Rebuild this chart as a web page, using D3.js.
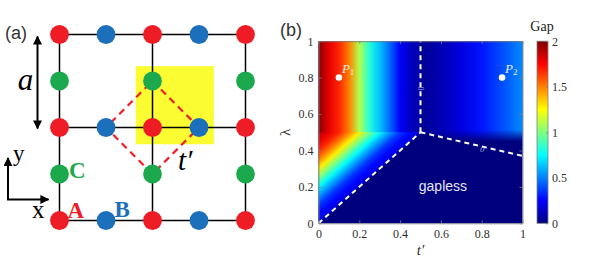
<!DOCTYPE html>
<html lang="en">
<head>
  <meta charset="UTF-8">
  <title>Lattice and gap phase diagram</title>
  <style>
    body { margin: 0; background: #fff; }
    text { font-family: "Liberation Serif", serif; }
  </style>
</head>
<body>
  <svg id="svg" width="589" height="264"></svg>

  <script src="https://d3js.org/d3.v7.min.js"></script>
  <script>
    // ---- panel (a): lattice ----
    const gridIdx = [0, 1, 2]
    const halfIdx = [0.5, 1.5]
    const plaquette = [0.82, 0.82, 1.66, 1.66]          // x0, y0, x1, y1
    const hopping = [[1, 1.5], [1.5, 1], [1, 0.5], [0.5, 1]]

    // ---- panel (b): gap phase diagram ----
    const tLeft = [0, 0.05, 0.1, 0.15, 0.2, 0.25, 0.3, 0.35, 0.4, 0.45, 0.5]
    const gapUpperLeft = [1.98, 1.8, 1.68, 1.5, 1.1, 0.82, 0.63, 0.45, 0.24, 0.13, 0.08]
    const tRight = [0.5, 0.6, 0.7, 0.8, 0.9, 1.0]
    const gapUpperRight = [0.04, 0.1, 0.19, 0.29, 0.4, 0.52]
    // lower-left region: gap vs distance d = lambda - t' from the diagonal
    const dLower = [0, 0.05, 0.1, 0.15, 0.2, 0.25, 0.3, 0.35, 0.4, 0.45, 0.5]
    const gapLower = [0.18, 0.26, 0.36, 0.55, 0.76, 1.0, 1.28, 1.5, 1.68, 1.8, 1.88]
    const boundaryDiag = [[0, 0], [0.5, 0.5]]
    const boundaryVert = [[0.5, 0.5], [0.5, 1]]
    const boundaryRight = [[0.5, 0.5], [1, 0.37]]
    const points = [{ name: "P", sub: "1", t: 0.1, l: 0.8 }, { name: "P", sub: "2", t: 0.9, l: 0.8 }]
    const axisTicks = [0, 0.2, 0.4, 0.6, 0.8, 1]
    const gapTicks = [0, 0.5, 1, 1.5, 2]

    const svg = d3.select("#svg")
    const defs = svg.append("defs")

    const red = "#ee1c25", blue = "#1c6fbb", green = "#1ca94e"
    const serif = "'Liberation Serif', serif"

    // ================= panel (a) =================
    const lx = d3.scaleLinear().domain([0, 2]).range([59.5, 245.5])
    const ly = d3.scaleLinear().domain([0, 2]).range([220.5, 34.5])

    defs.append("marker")
      .attr("id", "head")
      .attr("viewBox", "0 0 10 10")
      .attr("refX", 9).attr("refY", 5)
      .attr("markerWidth", 4.5).attr("markerHeight", 4.5)
      .attr("orient", "auto-start-reverse")
      .append("path").attr("d", "M0,0L10,5L0,10Z").attr("fill", "#000")

    const a = svg.append("g")

    a.append("rect")
      .attr("x", lx(plaquette[0])).attr("y", ly(plaquette[3]))
      .attr("width", lx(plaquette[2]) - lx(plaquette[0]))
      .attr("height", ly(plaquette[1]) - ly(plaquette[3]))
      .attr("fill", "#fcfc33")

    gridIdx.forEach(i => {
      a.append("line").attr("x1", lx(i)).attr("x2", lx(i)).attr("y1", ly(0)).attr("y2", ly(2))
        .attr("stroke", "#000").attr("stroke-width", 1.5)
      a.append("line").attr("y1", ly(i)).attr("y2", ly(i)).attr("x1", lx(0)).attr("x2", lx(2))
        .attr("stroke", "#000").attr("stroke-width", 1.5)
    })

    a.append("path")
      .attr("d", d3.line().x(d => lx(d[0])).y(d => ly(d[1])).curve(d3.curveLinearClosed)(hopping))
      .attr("fill", "none").attr("stroke", red).attr("stroke-width", 2.2)
      .attr("stroke-dasharray", "7,5")

    const sites = [
      { pts: d3.cross(gridIdx, gridIdx), color: red },
      { pts: d3.cross(halfIdx, gridIdx), color: blue },
      { pts: d3.cross(gridIdx, halfIdx), color: green }
    ]
    sites.forEach(s => {
      a.selectAll(null).data(s.pts).enter().append("circle")
        .attr("cx", d => lx(d[0])).attr("cy", d => ly(d[1])).attr("r", 9.4)
        .attr("fill", s.color)
    })

    // lattice-constant arrow
    a.append("line")
      .attr("x1", 37.5).attr("x2", 37.5).attr("y1", ly(2) + 2).attr("y2", ly(1) + 1)
      .attr("stroke", "#000").attr("stroke-width", 2)
      .attr("marker-start", "url(#head)").attr("marker-end", "url(#head)")
    a.append("text").text("a").attr("x", 25.5).attr("y", 90).attr("text-anchor", "middle")
      .style("font-size", "31px").style("font-style", "italic")

    // coordinate axes
    a.append("path").attr("d", "M8,199.5L8,158").attr("stroke", "#000").attr("stroke-width", 2)
      .attr("fill", "none").attr("marker-end", "url(#head)")
    a.append("path").attr("d", "M7,199.5L48.5,199.5").attr("stroke", "#000").attr("stroke-width", 2)
      .attr("fill", "none").attr("marker-end", "url(#head)")
    a.append("text").text("y").attr("x", 13).attr("y", 161).style("font-size", "23px")
    a.append("text").text("x").attr("x", 32).attr("y", 218).style("font-size", "25px")

    a.append("text").text("C").attr("x", 69).attr("y", 178).attr("fill", green)
      .style("font-size", "23px").style("font-weight", "bold")
    a.append("text").text("A").attr("x", 67.5).attr("y", 218).attr("fill", red)
      .style("font-size", "23px").style("font-weight", "bold")
    a.append("text").text("B").attr("x", 114.5).attr("y", 216.5).attr("fill", blue)
      .style("font-size", "23px").style("font-weight", "bold")
    a.append("text").text("t\u2032").attr("x", 178).attr("y", 170)
      .style("font-size", "29px").style("font-style", "italic")

    svg.append("text").text("(a)").attr("x", 5).attr("y", 39).attr("fill", "#333")
      .style("font-family", "'Liberation Sans', sans-serif").style("font-size", "18px")

    // ================= panel (b) =================
    const x = d3.scaleLinear().domain([0, 1]).range([318.5, 522.5])
    const y = d3.scaleLinear().domain([0, 1]).range([223.3, 41.2])
    const jet = d3.scaleLinear()
      .domain([0, 0.25, 0.75, 1.25, 1.75, 2])
      .range(["#00007f", "#0000ff", "#00ffff", "#ffff00", "#ff0000", "#7f0000"])
      .clamp(true)
    const navy = jet(0)
    const poly = d3.line().x(d => x(d[0])).y(d => y(d[1]))

    function gradient(id, x1, y1, x2, y2, offsets, values) {
      const g = defs.append("linearGradient").attr("id", id)
        .attr("gradientUnits", "userSpaceOnUse")
        .attr("x1", x1).attr("y1", y1).attr("x2", x2).attr("y2", y2)
      g.selectAll("stop").data(values).enter().append("stop")
        .attr("offset", (d, i) => offsets[i])
        .attr("stop-color", d => jet(d))
      return g
    }

    gradient("gUL", x(0), 0, x(0.5), 0, tLeft.map(t => t / 0.5), gapUpperLeft)
    gradient("gUR", x(0.5), 0, x(1), 0, tRight.map(t => (t - 0.5) / 0.5), gapUpperRight)

    // lower-left: gradient perpendicular to the diagonal in pixel space
    const ox = x(0), oy = y(0)
    const ux = x(1) - x(0), uy = y(1) - y(0)
    const px = x(0), py = y(0.5)
    const k = ((px - ox) * ux + (py - oy) * uy) / (ux * ux + uy * uy)
    gradient("gLL", ox + k * ux, oy + k * uy, px, py, dLower.map(d => d / 0.5), gapLower)

    const fade = defs.append("linearGradient").attr("id", "gFade")
      .attr("gradientUnits", "userSpaceOnUse")
      .attr("x1", 0).attr("x2", 0).attr("y1", y(0.515)).attr("y2", y(0.45))
    fade.append("stop").attr("offset", 0).attr("stop-color", navy).attr("stop-opacity", 0)
    fade.append("stop").attr("offset", 1).attr("stop-color", navy).attr("stop-opacity", 1)

    const urRegion = [[0.5, 1], [1, 1], boundaryRight[1], boundaryRight[0]]
    defs.append("clipPath").attr("id", "clipUR").append("path").attr("d", poly(urRegion) + "Z")

    const b = svg.append("g")
    b.append("rect").attr("x", x(0)).attr("y", y(1)).attr("width", x(1) - x(0))
      .attr("height", y(0) - y(1)).attr("fill", navy)
    b.append("path").attr("d", poly([[0, 0], [0, 0.505], [0.505, 0.505]]) + "Z").attr("fill", "url(#gLL)")
    b.append("rect").attr("x", x(0)).attr("y", y(1)).attr("width", x(0.5) - x(0))
      .attr("height", y(0.5) - y(1)).attr("fill", "url(#gUL)")
    b.append("path").attr("d", poly(urRegion) + "Z").attr("fill", "url(#gUR)")
    b.append("rect").attr("x", x(0.5)).attr("y", y(0.515)).attr("width", x(1) - x(0.5))
      .attr("height", y(0.3) - y(0.515)).attr("fill", "url(#gFade)")
      .attr("clip-path", "url(#clipUR)")

    ;[boundaryDiag, boundaryVert, boundaryRight].forEach(seg => {
      b.append("path").attr("d", poly(seg)).attr("fill", "none")
        .attr("stroke", "#fff").attr("stroke-width", 2).attr("stroke-dasharray", "5,4")
    })

    // contour labels
    b.append("text").text("0")
      .attr("transform", `translate(${x(0.5) + 3},${y(0.74)}) rotate(-90)`)
      .attr("text-anchor", "middle").attr("fill", "#a8b0e0").style("font-size", "8px")
    const ang = Math.atan2(y(boundaryRight[1][1]) - y(boundaryRight[0][1]), x(1) - x(0.5)) * 180 / Math.PI
    b.append("text").text("0")
      .attr("transform", `translate(${x(0.8)},${y(0.406) + 2.5}) rotate(${ang})`)
      .attr("text-anchor", "middle").attr("fill", "#a8b0e0").style("font-size", "8px")
      .style("font-style", "italic")

    b.append("text").text("gapless").attr("x", x(0.61)).attr("y", y(0.18))
      .attr("text-anchor", "middle").attr("fill", "#e4e4f0")
      .style("font-family", "'Liberation Sans', sans-serif").style("font-size", "14px")

    b.selectAll(".pt").data(points).enter().append("circle")
      .attr("cx", d => x(d.t)).attr("cy", d => y(d.l)).attr("r", 3.3).attr("fill", "#fff")
    const pl = b.selectAll(".pl").data(points).enter().append("text")
      .attr("x", d => x(d.t) + 3).attr("y", d => y(d.l) - 5)
      .attr("fill", "#f0f0f0").style("font-size", "13px").style("font-style", "italic")
    pl.append("tspan").text(d => d.name)
    pl.append("tspan").text(d => d.sub).attr("dy", 2).style("font-size", "9px").style("font-style", "normal")

    // axes with inward ticks on all sides
    const fmt = d3.format("")
    function styleAxis(g) {
      g.attr("font-family", serif).attr("font-size", 12)
      g.selectAll("path").attr("stroke", "#808080").attr("stroke-width", 0.8)
      g.selectAll("line").attr("stroke", "#808080").attr("stroke-width", 0.8)
      g.selectAll("text").attr("fill", "#303030").style("font-family", serif).style("font-size", "12px")
    }
    svg.append("g").attr("transform", `translate(0,${y(0)})`)
      .call(d3.axisBottom(x).tickValues(axisTicks).tickFormat(fmt).tickSizeInner(-3).tickSizeOuter(0).tickPadding(6))
      .call(styleAxis)
    svg.append("g").attr("transform", `translate(0,${y(1)})`)
      .call(d3.axisTop(x).tickValues(axisTicks).tickFormat("").tickSizeInner(-3).tickSizeOuter(0))
      .call(styleAxis)
    svg.append("g").attr("transform", `translate(${x(0)},0)`)
      .call(d3.axisLeft(y).tickValues(axisTicks).tickFormat(fmt).tickSizeInner(-3).tickSizeOuter(0).tickPadding(5))
      .call(styleAxis)
    svg.append("g").attr("transform", `translate(${x(1)},0)`)
      .call(d3.axisRight(y).tickValues(axisTicks).tickFormat("").tickSizeInner(-3).tickSizeOuter(0))
      .call(styleAxis)

    svg.append("text").text("t\u2032").attr("x", x(0.5)).attr("y", 255).attr("text-anchor", "middle")
      .attr("fill", "#303030").style("font-size", "15px").style("font-style", "italic")
    svg.append("text").text("\u03bb").attr("transform", `translate(290,${y(0.5)}) rotate(-90)`)
      .attr("text-anchor", "middle").attr("fill", "#303030").style("font-size", "15px")

    // colorbar
    const cb = d3.scaleLinear().domain([0, 2]).range([y(0), y(1)])
    const cg = defs.append("linearGradient").attr("id", "gCB")
      .attr("gradientUnits", "userSpaceOnUse")
      .attr("x1", 0).attr("x2", 0).attr("y1", cb(0)).attr("y2", cb(2))
    cg.selectAll("stop").data(jet.domain()).enter().append("stop")
      .attr("offset", d => d / 2).attr("stop-color", d => jet(d))
    svg.append("rect").attr("x", 537).attr("y", cb(2)).attr("width", 11)
      .attr("height", cb(0) - cb(2)).attr("fill", "url(#gCB)")
      .attr("stroke", "#808080").attr("stroke-width", 0.8)
    svg.append("g").attr("transform", "translate(548,0)")
      .call(d3.axisRight(cb).tickValues(gapTicks).tickFormat(fmt).tickSizeInner(-2).tickSizeOuter(0).tickPadding(4))
      .call(styleAxis)
      .call(g => g.select(".domain").remove())
    svg.append("text").text("Gap").attr("x", 542).attr("y", 31).attr("text-anchor", "middle")
      .attr("fill", "#202020").style("font-size", "14px")

    svg.append("text").text("(b)").attr("x", 280).attr("y", 36).attr("fill", "#333")
      .style("font-family", "'Liberation Sans', sans-serif").style("font-size", "18px")
  </script>
</body>
</html>
